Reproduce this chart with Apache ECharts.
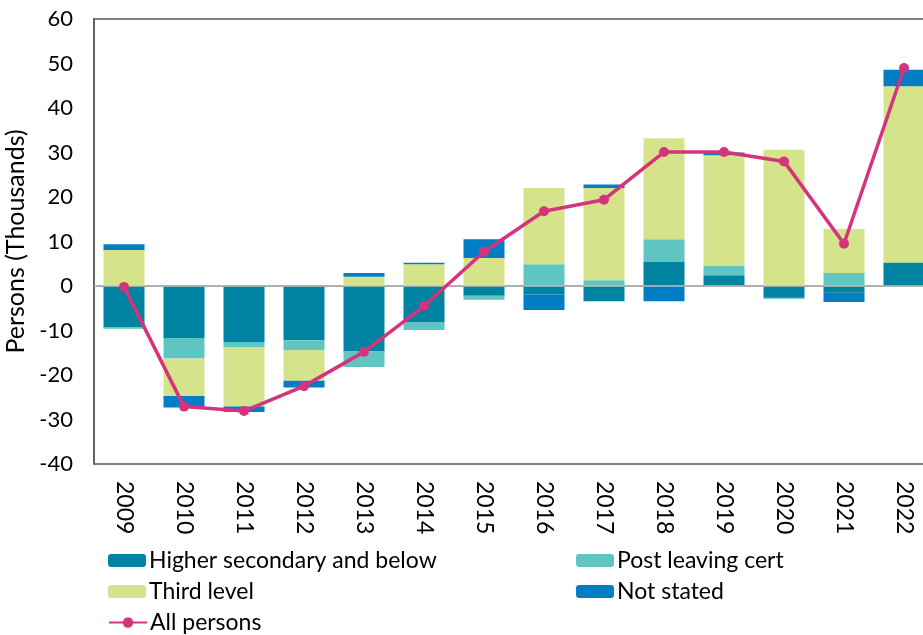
<!DOCTYPE html>
<html>
<head>
<meta charset="utf-8">
<script src="https://cdn.jsdelivr.net/npm/echarts@6/dist/echarts.min.js"></script>
<style>
  html, body { margin: 0; padding: 0; background: #fff; }
  #chart { width: 923px; height: 635px; }
</style>
</head>
<body>
<div id="chart"></div>
<script>
// years on the x axis
const years = ['2009', '2010', '2011', '2012', '2013', '2014', '2015', '2016', '2017', '2018', '2019', '2020', '2021', '2022']

// change in persons (thousands), by education level
const higherSecondary = [-9.3, -11.7, -12.6, -12.2, -14.7, -8.2, -2.2, -1.9, -3.4, 5.5, 2.4, -2.6, -1.5, 5.3]
const postLeaving = [-0.3, -4.6, -1.1, -2.2, -3.5, -1.7, -0.9, 4.9, 1.3, 5.0, 2.1, 0, 2.9, 0]
const thirdLevel = [8.1, -8.4, -13.4, -6.9, 2.1, 4.9, 6.3, 17.1, 20.7, 22.7, 24.9, 30.6, 9.9, 39.6]
const notStated = [1.3, -2.6, -1.2, -1.5, 0.8, 0.3, 4.2, -3.5, 0.8, -3.4, 0.6, -0.2, -2.1, 3.7]
const allPersons = [-0.2, -27.1, -28.1, -22.5, -14.8, -4.5, 7.7, 16.8, 19.4, 30.1, 30.1, 28.0, 9.5, 49.0]

const yTicks = { min: -40, max: 60, step: 10 }

const fontFam = 'Lato, "DejaVu Sans", sans-serif'

const chart = echarts.init(document.getElementById('chart'))

function barSeries(name, data, color) {
  return {
    name: name,
    type: 'bar',
    stack: 'edu',
    barWidth: 41,
    data: data,
    itemStyle: { color: color },
    emphasis: { disabled: true },
    animation: false
  }
}

// one legend box per entry so they can sit in two columns
function legendItem(name, left, top) {
  return {
    left: left,
    top: top,
    itemWidth: 38,
    itemHeight: 13,
    selectedMode: false,
    textStyle: { fontFamily: fontFam, fontSize: 23, color: '#000', padding: [0, 0, 0, -2] },
    data: [name]
  }
}

chart.setOption({
  backgroundColor: '#fff',
  grid: {
    left: 94,
    top: 19,
    width: 840,
    height: 445,
    outerBoundsMode: 'none',
    show: true,
    borderColor: '#595959',
    borderWidth: 1.5
  },
  legend: [
    legendItem('Higher secondary and below', 103, 544),
    legendItem('Third level', 103, 575),
    legendItem('All persons', 103, 606),
    legendItem('Post leaving cert', 571, 544),
    legendItem('Not stated', 571, 575)
  ],
  xAxis: {
    type: 'category',
    data: years,
    axisLine: { show: true, lineStyle: { color: '#595959', width: 1.5 } },
    axisTick: { show: false },
    axisLabel: {
      rotate: -90,
      margin: 17,
      fontFamily: fontFam,
      fontSize: 23,
      color: '#000'
    }
  },
  yAxis: {
    type: 'value',
    min: yTicks.min,
    max: yTicks.max,
    interval: yTicks.step,
    name: 'Persons (Thousands)',
    nameLocation: 'middle',
    nameGap: 66,
    nameTextStyle: { fontFamily: fontFam, fontSize: 25, color: '#000' },
    splitLine: { show: false },
    axisLine: { show: true, lineStyle: { color: '#595959', width: 1.5 } },
    axisTick: { show: false },
    axisLabel: {
      margin: 21,
      fontFamily: fontFam,
      fontSize: 22,
      color: '#000'
    }
  },
  series: [
    barSeries('Higher secondary and below', higherSecondary, '#0083A0'),
    barSeries('Post leaving cert', postLeaving, '#5FC5C2'),
    barSeries('Third level', thirdLevel, '#D5E38A'),
    barSeries('Not stated', notStated, '#007DC3'),
    {
      name: 'All persons',
      type: 'line',
      data: allPersons,
      symbol: 'circle',
      symbolSize: 10,
      lineStyle: { color: '#D6337F', width: 3.5 },
      itemStyle: { color: '#D6337F' },
      z: 5,
      animation: false,
      markLine: {
        silent: true,
        symbol: 'none',
        label: { show: false },
        lineStyle: { color: '#BFBFBF', width: 1.5, type: 'solid' },
        data: [{ yAxis: 0 }]
      }
    }
  ]
})
</script>
</body>
</html>
